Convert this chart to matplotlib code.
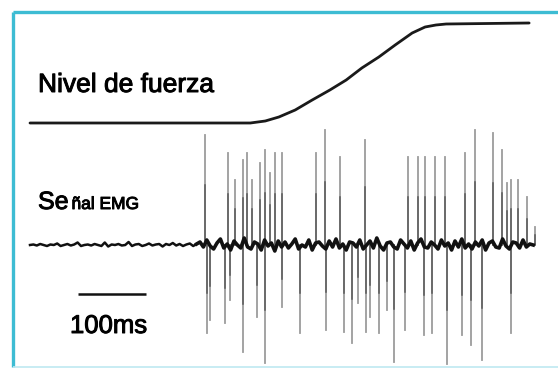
import numpy as np
import matplotlib
matplotlib.use("Agg")
import matplotlib.pyplot as plt
import matplotlib.patheffects as pe

# ---------------- data (time in ms, force in %, EMG amplitude in a.u.) ----------------
force_t = [0, 324, 346, 366, 390, 415, 441, 465, 488, 513, 537, 562, 581, 597, 612, 734]
force_v = [0, 0, 2, 6, 13, 23, 33, 43, 55, 66, 78, 90, 96, 98, 99, 100]

spike_up_t = [257, 291, 301, 313, 319, 326, 338, 346, 353, 360, 371, 421, 434, 456, 493,
              556, 571, 581, 596, 610, 640, 654, 681, 694, 701, 707, 718, 731, 743]
spike_up_a = [110, 92, 65, 85, 92, 65, 82, 95, 72, 92, 92, 92, 115, 88, 105,
              88, 88, 88, 88, 88, 92, 115, 112, 95, 62, 65, 65, 48, 18]

spike_dn_t = [260, 265, 287, 294, 313, 334, 346, 371, 397, 435, 462, 474, 482, 494, 500,
              513, 525, 535, 551, 579, 591, 613, 635, 649, 665, 707]
spike_dn_a = [88, 75, 78, 55, 107, 72, 118, 62, 88, 85, 87, 98, 58, 87, 72,
              88, 65, 117, 85, 90, 88, 119, 90, 100, 115, 88]

# baseline activity, sampled every 5 ms
noise_quiet = [0, 0.5, -0.5, 1, 0, -1, 0.5, 0, 1.5, -1, 0, 1, -0.5, 0.5, 2.5, -1, 0, 0.5,
               -0.5, 1, 0, -1, 2.5, -1.5, 0.5, 0, 1, -0.5, 0, 3, -1, 0.5, 1, -1, 0, 1.5,
               -0.5, 0.5, 1, -1.5, 1, 0, 2, -0.5, 1, -1, 0.5, 1.5, -1, 1]
noise_active = [3, -2, 5, -1, -4, 2, 6, -3, 1, -5, 4, 0, -3, 7, -2, -4, 3, 1, -5, 5,
                -1, 2, -6, 4, -2, 3, -3, 1, 6, -4, 0, -2, 5, -5, 2, 3, -1, -4, 4, -2,
                6, -3, 1, -5, 3, 2, -2, 5, -4, 0, 4, -3, 7, -1, -5, 2, 3, -2, -4, 5,
                1, -3, 4, -5, 2, 6, -2, -3, 3, 0, -4, 5, -1, 2, -5, 4, -2, 6, -3, 1,
                -4, 3, -1, 5, -5, 2, 4, -2, -3, 6, -1, -4, 3, 2, -3, 5, -2, 1, 0]
NOISE_STEP = 5
SCALE_MS = 100

label_force = "Nivel de fuerza"
label_emg_a = "Se"
label_emg_b = "ñal EMG"
label_scale = "100ms"

# ---------------- layout ----------------
W, H = 558, 369
PX_PER_MS = 0.68
X0 = 30            # pixel x of t = 0
FORCE_BASE, FORCE_TOP = 123, 23
EMG_BASE = 245
BORDER = "#3dbcd3"
FONT = ["Liberation Sans", "DejaVu Sans"]
TXT_FX = [pe.withStroke(linewidth=0.7, foreground="black")]

fig = plt.figure(figsize=(W / 100, H / 100), dpi=100)
fig.patch.set_facecolor("white")
ax = fig.add_axes([0, 0, 1, 1])
ax.set_xlim(-X0 / PX_PER_MS, (W - X0) / PX_PER_MS)
ax.set_ylim(H, 0)
ax.axis("off")

lay = fig.add_axes([0, 0, 1, 1], zorder=3)
lay.set_xlim(0, W)
lay.set_ylim(H, 0)
lay.axis("off")
lay.patch.set_alpha(0)

# force curve
fscale = (FORCE_BASE - FORCE_TOP) / 100.0
ax.plot(force_t, [FORCE_BASE - v * fscale for v in force_v], color="#1a1a1a", lw=2.0,
        solid_capstyle="round", solid_joinstyle="round")

# EMG spikes
for t, a in zip(spike_up_t, spike_up_a):
    ax.plot([t, t], [EMG_BASE, EMG_BASE - a], color="#7a7a7a", lw=1.3, alpha=0.75)
    ax.plot([t, t], [EMG_BASE, EMG_BASE - a * 0.55], color="#2a2a2a", lw=1.1, alpha=0.6)
for t, a in zip(spike_dn_t, spike_dn_a):
    ax.plot([t, t], [EMG_BASE, EMG_BASE + a], color="#7a7a7a", lw=1.3, alpha=0.75)
    ax.plot([t, t], [EMG_BASE, EMG_BASE + a * 0.55], color="#2a2a2a", lw=1.1, alpha=0.6)

# EMG baseline
tq = np.arange(len(noise_quiet)) * NOISE_STEP
ta = tq[-1] + NOISE_STEP + np.arange(len(noise_active)) * NOISE_STEP
ax.plot(tq, EMG_BASE - np.array(noise_quiet), color="#111111", lw=1.8,
        solid_joinstyle="round")
ax.plot(np.concatenate([[tq[-1]], ta]),
        EMG_BASE - np.concatenate([[noise_quiet[-1]], noise_active]),
        color="#111111", lw=2.6, solid_joinstyle="round")

# scale bar
sb0 = (78 - X0) / PX_PER_MS
ax.plot([sb0, sb0 + SCALE_MS], [294, 294], color="#111111", lw=1.8, solid_capstyle="butt")

# texts
lay.text(38, 92, label_force, fontsize=19, family=FONT, color="black", va="baseline",
         path_effects=TXT_FX)
lay.text(70, 333, label_scale, fontsize=18.5, family=FONT, color="black", va="baseline",
         path_effects=TXT_FX)
lay.text(38, 209, label_emg_a, fontsize=18, family=FONT, color="black", va="baseline",
         path_effects=TXT_FX)
lay.text(71.5, 209, label_emg_b, fontsize=12.5, family=FONT, color="black",
         va="baseline", path_effects=TXT_FX)

# border (open at right)
lay.plot([13, W], [12, 12], color=BORDER, lw=2.4, solid_capstyle="butt")
lay.plot([13, 13], [12, 367], color=BORDER, lw=2.4, solid_capstyle="butt")
lay.plot([13, W], [366.5, 366.5], color="#bfe9f1", lw=1.2, solid_capstyle="butt")

fig.savefig("out.png", dpi=100, facecolor="white")
